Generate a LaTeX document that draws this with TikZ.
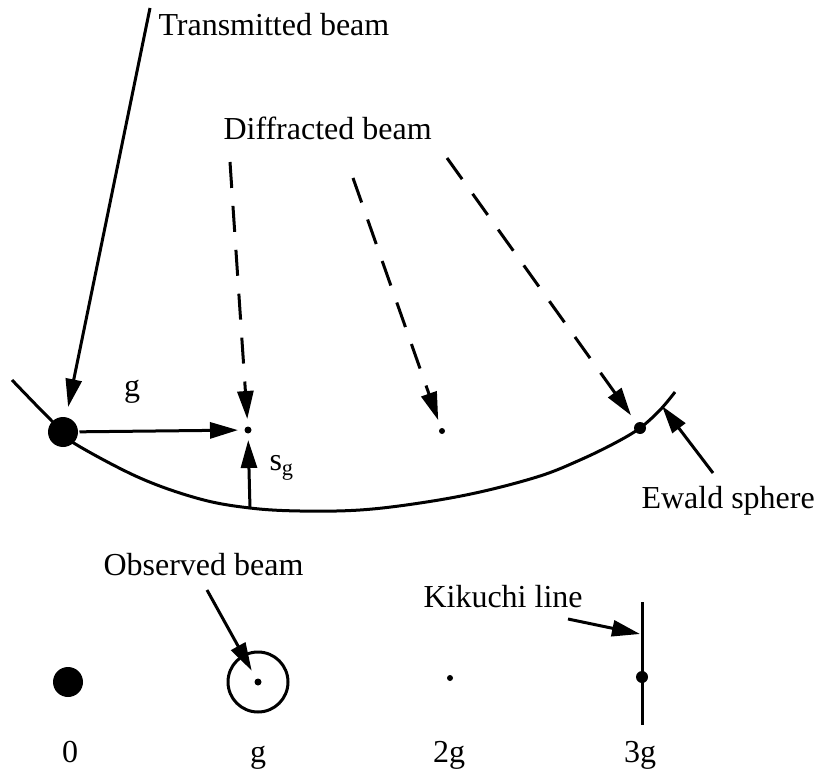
\documentclass[tikz,border=0pt]{standalone}
\usepackage{fontspec}
\setmainfont{Liberation Serif}
\usetikzlibrary{arrows.meta, positioning}

\begin{document}
\begin{tikzpicture}[
        x=0.5pt, y=-0.5pt,
        line width=1.5pt,
        lbl/.style={font=\fontsize{16}{20}\selectfont, inner sep=0pt},
        pointer/.style={-{Triangle[length=14pt,width=8pt]}},
        beam/.style={pointer, dash pattern=on 13pt off 9pt},
        spot/.style={circle, fill=black, inner sep=0pt, minimum size=#1}
    ]
        \useasboundingbox (0,0) rectangle (817,774);

        % Ewald sphere and reciprocal lattice points
        \draw plot[smooth, tension=0.6] coordinates {(12,380) (40,409) (63,432) (77,445) (140,478) (200,499) (250,508) (300,511) (360,510) (420,503) (480,492) (540,476) (580,460) (615,443) (640,428) (660,410) (675,392)};
        \node[spot=15pt] (spot0) at (63,432) {};
        \node[spot=3.5pt] (spotg) at (248,430) {};
        \node[spot=3pt] (spot2g) at (442,431) {};
        \node[spot=6pt] (spot3g) at (640,428) {};
        \coordinate (sgfoot) at (250,509);

        % Beams
        \coordinate (trtop) at (150,8);
        \coordinate (d1top) at (230,162);
        \coordinate (d2top) at (353,178);
        \coordinate (d3top) at (447,158);
        \draw[pointer, shorten >=4.5pt] (trtop) -- (spot0);
        \draw[beam, shorten >=3pt] (d1top) -- (spotg);
        \draw[beam, shorten >=3.5pt] (d2top) -- (spot2g);
        \draw[beam, shorten >=4pt] (d3top) -- (spot3g);
        \draw[pointer, shorten >=2.5pt] (spot0) -- (spotg);
        \draw[pointer, shorten >=2.5pt] (sgfoot) -- (spotg);

        \node[lbl, anchor=base west] (trlabel) at (157,36) {Transmitted beam};
        \node[lbl, anchor=base west] (difflabel) at (222,140) {Diffracted beam};
        \node[lbl, anchor=base] (glabel) at (132,396) {g};
        \node[lbl, anchor=base west] (sglabel) at (268,470) {s\textsubscript{g}};

        % Ewald sphere label
        \coordinate (ewfoot) at (713,473);
        \coordinate (ewtip) at (662,406);
        \draw[pointer] (ewfoot) -- (ewtip);
        \node[lbl, anchor=base west] (ewlabel) at (640,508) {Ewald sphere};

        % Diffraction pattern
        \node[spot=15pt] (pat0) at (68,682) {};
        \node[circle, draw, minimum size=30pt, inner sep=0pt] (ring) at (258,682) {};
        \node[spot=3.5pt] (patg) at (258,682) {};
        \node[spot=3pt] (pat2g) at (450,678) {};
        \node[spot=6pt] (pat3g) at (642,677) {};
        \coordinate (kiktop) at (642,602);
        \coordinate (kikbot) at (642,725);
        \draw (kiktop) -- (kikbot);

        \coordinate (obsfoot) at (207,590);
        \draw[pointer, shorten >=4pt] (obsfoot) -- (patg);
        \node[lbl, anchor=base west] (obslabel) at (102,575) {Observed beam};
        \coordinate (kikfoot) at (568,619);
        \coordinate (kiktip) at (640,634);
        \draw[pointer] (kikfoot) -- (kiktip);
        \node[lbl, anchor=base west] (kiklabel) at (422,607) {Kikuchi line};

        \node[lbl, anchor=base] (idx0) at (70,762) {0};
        \node[lbl, anchor=base] (idxg) at (258,762) {g};
        \node[lbl, anchor=base] (idx2g) at (449,762) {2g};
        \node[lbl, anchor=base] (idx3g) at (640,762) {3g};
    \end{tikzpicture}
\end{document}
